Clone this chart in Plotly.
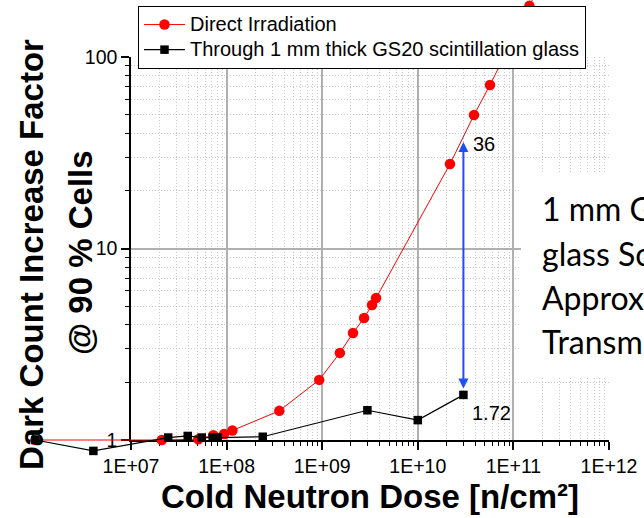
import numpy as np
import plotly.graph_objects as go

# Dark count increase factor of the cells versus cold neutron dose
direct_dose = [1e6, 2.1e7, 5.06e7, 7.26e7, 9.4e7, 1.15e8, 3.56e8, 9.3e8,
               1.53e9, 2.1e9, 2.74e9, 3.32e9, 3.66e9, 2.17e10, 3.87e10,
               5.69e10, 7.41e10, 1.47e11, 1.75e11]
direct_factor = [1.0, 1.0, 1.01, 1.06, 1.075, 1.12, 1.42, 2.06,
                 2.85, 3.62, 4.34, 5.07, 5.51, 27.6, 49.8,
                 71.4, 93.0, 185.0, 220.0]

glass_dose = [1e6, 4.04e6, 2.45e7, 3.92e7, 5.5e7, 7.16e7, 8.07e7, 2.39e8,
              2.97e9, 1.0e10, 3.0e10]
glass_factor = [1.0, 0.877, 1.03, 1.05, 1.03, 1.03, 1.03, 1.04,
                1.43, 1.27, 1.72]

x_tick_vals = [1e7, 1e8, 1e9, 1e10, 1e11, 1e12]
x_tick_text = ["1E+07", "1E+08", "1E+09", "1E+10", "1E+11", "1E+12"]
y_tick_vals = [1, 10, 100]
y_tick_text = ["1", "10", "100"]

# ratio between the two series at the highest glass dose
arrow_dose = 3.0e10
arrow_low = 1.72
arrow_high = 36

note_lines = ["1 mm GS20", "glass Scintillator", "Approx. 5 %", "Transmission"]

# ---------------------------------------------------------------- geometry
W, H = 644, 518
PX_L, PX_R = 131, 609      # plot area, pixels
PX_T, PX_B = 57, 440
X_RANGE = [7, 12]
Y_RANGE = [0, 2]

per_x = (PX_R - PX_L) / (X_RANGE[1] - X_RANGE[0])
per_y = (PX_B - PX_T) / (Y_RANGE[1] - Y_RANGE[0])
# full-page overlay axes with the same scale, so the curves may run past the frame
x2_range = [X_RANGE[0] - PX_L / per_x, X_RANGE[1] + (W - PX_R) / per_x]
y2_range = [Y_RANGE[0] - (H - PX_B) / per_y, Y_RANGE[1] + PX_T / per_y]

x_minor = [m * 10.0 ** e for e in range(7, 12) for m in range(2, 10)]
y_minor = [m * 10.0 ** e for e in range(0, 2) for m in range(2, 10)]

ARIAL = "Liberation Sans, Arial, sans-serif"
RED = "#ff0000"
BLUE = "#1f4ef5"


def legend_label(text):
    # larger glyphs than the legend's own row pitch
    return f"<span style='font-size:20px'>{text}</span>"


fig = go.Figure()

# empty trace so the gridded frame exists
fig.add_trace(go.Scatter(x=[], y=[], xaxis="x", yaxis="y",
                         showlegend=False, hoverinfo="skip"))

fig.add_trace(go.Scatter(
    x=direct_dose, y=direct_factor, xaxis="x2", yaxis="y2",
    mode="lines+markers", name=legend_label("Direct Irradiation"),
    line=dict(color=RED, width=1),
    marker=dict(symbol="circle", size=10.5, color=RED),
))
fig.add_trace(go.Scatter(
    x=glass_dose, y=glass_factor, xaxis="x2", yaxis="y2",
    mode="lines+markers",
    name=legend_label("Through 1 mm thick GS20 scintillation glass"),
    line=dict(color="black", width=1.2),
    marker=dict(symbol="square", size=8.5, color="black"),
))

axis_common = dict(
    type="log", showline=True, linecolor="black", linewidth=1.5,
    ticks="outside", ticklen=8, tickwidth=1.5, tickcolor="black",
    showgrid=True, gridcolor="#b0b0b0", gridwidth=1.5,
    zeroline=False, mirror=False, fixedrange=True, automargin=False,
    tickfont=dict(family=ARIAL, size=19.5, color="black"),
)

fig.update_layout(
    width=W, height=H,
    margin=dict(l=0, r=0, t=0, b=0, autoexpand=False),
    paper_bgcolor="white", plot_bgcolor="rgba(0,0,0,0)",
    showlegend=True,
    xaxis=dict(
        axis_common, range=X_RANGE, domain=[PX_L / W, PX_R / W], anchor="y",
        tickmode="array", tickvals=x_tick_vals, ticktext=x_tick_text,
        minor=dict(tickmode="array", tickvals=x_minor, ticks="outside",
                   ticklen=4, tickwidth=1, tickcolor="black",
                   showgrid=True, gridcolor="#c8c8c8", gridwidth=1,
                   griddash="1px,2px"),
    ),
    yaxis=dict(
        axis_common, range=Y_RANGE, domain=[1 - PX_B / H, 1 - PX_T / H], anchor="x",
        tickmode="array", tickvals=y_tick_vals, ticktext=y_tick_text,
        minor=dict(tickmode="array", tickvals=y_minor, ticks="outside",
                   ticklen=4, tickwidth=1, tickcolor="black",
                   showgrid=True, gridcolor="#c8c8c8", gridwidth=1,
                   griddash="1px,2px"),
    ),
    xaxis2=dict(type="log", range=x2_range, domain=[0, 1], anchor="y2",
                visible=False, fixedrange=True, automargin=False),
    yaxis2=dict(type="log", range=y2_range, domain=[0, 1], anchor="x2",
                visible=False, fixedrange=True, automargin=False),
    legend=dict(
        x=138 / W, y=1 - 6 / H, xanchor="left", yanchor="top",
        bgcolor="white", bordercolor="black", borderwidth=1,
        font=dict(family=ARIAL, size=17, color="black"),
        itemwidth=41, tracegroupgap=0,
    ),
)

# white panel behind the side note
fig.add_shape(type="rect", xref="paper", yref="paper",
              x0=521 / W, x1=1.0, y0=1 - 377 / H, y1=1 - 173 / H,
              fillcolor="white", line=dict(width=0), layer="above")

ann = []
# double-headed arrow between the two curves
ann.append(dict(
    x=np.log10(arrow_dose), y=np.log10(arrow_high),
    ax=np.log10(arrow_dose), ay=np.log10(arrow_low),
    xref="x2", yref="y2", axref="x2", ayref="y2",
    text="", showarrow=True, arrowside="end+start",
    arrowhead=2, startarrowhead=2, arrowsize=1, startarrowsize=1,
    arrowwidth=2, arrowcolor=BLUE, standoff=0, startstandoff=5,
))
ann.append(dict(x=np.log10(arrow_dose), y=np.log10(arrow_high), xref="x2", yref="y2",
                text=str(arrow_high), showarrow=False, xanchor="left", yanchor="middle",
                xshift=8, yshift=-2, font=dict(family=ARIAL, size=20, color="black")))
ann.append(dict(x=np.log10(arrow_dose), y=np.log10(arrow_low), xref="x2", yref="y2",
                text=f"{arrow_low:.2f}", showarrow=False, xanchor="left", yanchor="middle",
                xshift=7, yshift=-18, font=dict(family=ARIAL, size=20, color="black")))

# axis titles
title_font = dict(family=ARIAL, size=33, color="black", weight="bold")
ann.append(dict(x=31 / W, y=1 - 255 / H, xref="paper", yref="paper",
                text="Dark Count Increase Factor", textangle=-90, showarrow=False,
                xanchor="center", yanchor="middle", font=title_font))
ann.append(dict(x=80 / W, y=1 - 253 / H, xref="paper", yref="paper",
                text="@ 90 % Cells", textangle=-90, showarrow=False,
                xanchor="center", yanchor="middle", font=title_font))
ann.append(dict(x=370 / W, y=1 - 496 / H, xref="paper", yref="paper",
                text="Cold Neutron Dose [n/cm²]", showarrow=False,
                xanchor="center", yanchor="middle", font=title_font))

# side note
for i, line in enumerate(note_lines):
    ann.append(dict(x=540 / W, y=1 - (209 + 44 * i) / H, xref="paper", yref="paper",
                    text=line, showarrow=False, xanchor="left", yanchor="middle",
                    font=dict(family="Lato, Carlito, sans-serif", size=32, color="black")))

fig.update_layout(annotations=ann)

fig.write_html("out.html")
